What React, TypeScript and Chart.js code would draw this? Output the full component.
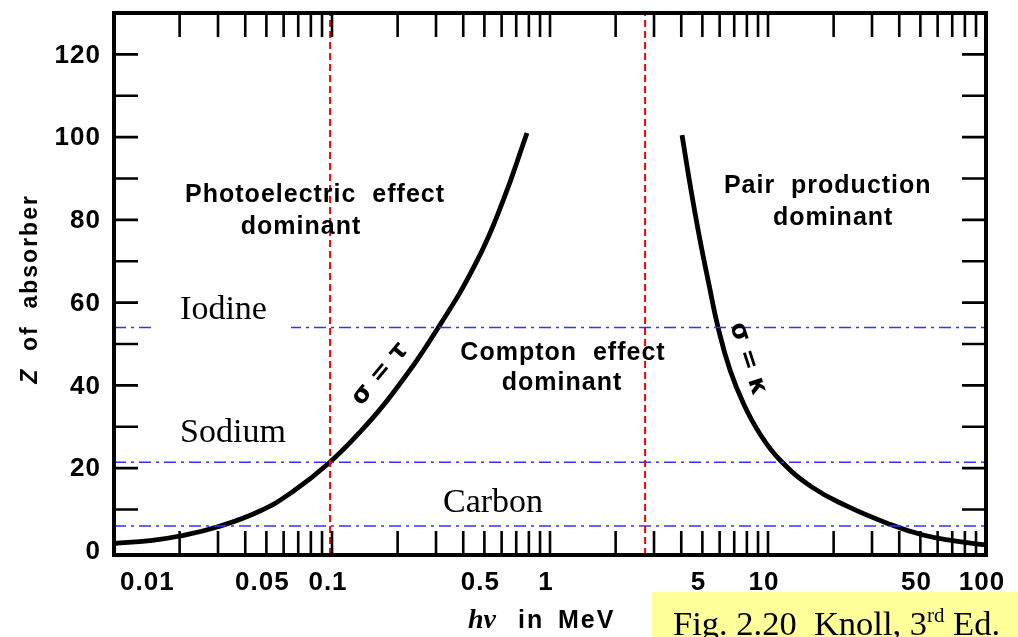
import React, { useEffect, useRef } from "react";
import { Chart, registerables } from "chart.js";

Chart.register(...registerables);

// ---- axis ranges and ticks ----
const X_MIN = 0.01;
const X_MAX = 100;
const Y_MIN = -1;
const Y_MAX = 130;

const X_TICKS = [
  0.02, 0.03, 0.04, 0.05, 0.06, 0.07, 0.08, 0.09, 0.1,
  0.2, 0.3, 0.4, 0.5, 0.6, 0.7, 0.8, 0.9, 1,
  2, 3, 4, 5, 6, 7, 8, 9, 10,
  20, 30, 40, 50, 60, 70, 80, 90,
];
const X_LABEL_VALUES = [0.01, 0.05, 0.1, 0.5, 1, 5, 10, 50, 100];
const X_LABEL_TEXT = ["0.01", "0.05", "0.1", "0.5", "1", "5", "10", "50", "100"];
const Y_TICKS = [10, 20, 30, 40, 50, 60, 70, 80, 90, 100, 110, 120];
const Y_LABEL_VALUES = [0, 20, 40, 60, 80, 100, 120];

// ---- curves: sigma = tau (photoelectric = Compton), sigma = kappa (pair = Compton) ----
const PHOTO_ENERGY = [0.01, 0.01463, 0.02008, 0.02969, 0.04674, 0.0662, 0.0969, 0.1345, 0.1905, 0.3064, 0.4625, 0.6086, 0.7843];
const PHOTO_Z = [1.78, 2.5, 3.59, 5.77, 9.64, 14.35, 21.24, 28.73, 38.16, 53.87, 70.07, 84.57, 101.0];
const PAIR_ENERGY = [4.033, 4.435, 4.877, 5.364, 5.896, 6.695, 7.762, 9.19, 11.35, 15.92, 23.04, 35.16, 51.4, 72.9, 100];
const PAIR_Z = [100.5, 87.2, 75.1, 64.3, 54.1, 43.7, 35.3, 28.25, 21.96, 15.4, 10.8, 6.7, 3.83, 2.38, 1.42];

// ---- guide lines ----
const BOUNDARY_ENERGY = [0.098, 2.73];
const ELEMENT_NAMES = ["Iodine", "Sodium", "Carbon"];
const ELEMENT_Z = [54, 21.4, 6];
const ELEMENT_LABEL_E = [0.0201, 0.0201, 0.323];
const ELEMENT_LABEL_Z = [56.0, 26.3, 9.4];
const ELEMENT_LABEL_BOX = [true, false, false];

// ---- region annotations ----
const REGION_TEXT = ["Photoelectric  effect", "dominant", "Compton  effect", "dominant", "Pair  production", "dominant"];
const REGION_E = [0.0836, 0.0721, 1.147, 1.135, 18.8, 19.9];
const REGION_Z = [84.3, 76.6, 46.1, 38.9, 86.5, 78.8];

const CURVE_LABELS = ["σ = τ", "σ = κ"];
const CURVE_LABEL_E = [0.166, 8.09];
const CURVE_LABEL_Z = [42.75, 46.4];
const CURVE_LABEL_ANGLE = [-50, 72];

const SANS = '"Liberation Sans", Arial, Helvetica, sans-serif';
const SERIF = '"Liberation Serif", "Times New Roman", Times, serif';
const TICK_LEN = 24;

function setSpacing(ctx: any, v: string) {
  try {
    ctx.letterSpacing = v;
  } catch (e) {
    /* ignore */
  }
}

const frameAndText = {
  id: "frameAndText",
  afterDatasetsDraw(chart: any) {
    const { ctx, chartArea } = chart;
    const { left, right, top, bottom } = chartArea;
    const xs = chart.scales.x;
    const ys = chart.scales.y;
    const px = (v: number) => xs.getPixelForValue(v);
    const py = (v: number) => ys.getPixelForValue(v);
    ctx.save();

    // element labels (serif)
    ctx.font = `34px ${SERIF}`;
    ctx.textAlign = "left";
    ctx.textBaseline = "alphabetic";
    setSpacing(ctx, "0px");
    ELEMENT_NAMES.forEach((name, i) => {
      const tx = px(ELEMENT_LABEL_E[i]);
      const ty = py(ELEMENT_LABEL_Z[i]);
      if (ELEMENT_LABEL_BOX[i]) {
        const w = ctx.measureText(name).width;
        ctx.fillStyle = "#ffffff";
        ctx.fillRect(tx - 27, ty - 31, w + 51, 46);
      }
      ctx.fillStyle = "#000000";
      ctx.fillText(name, tx, ty);
    });

    // frame
    ctx.strokeStyle = "#000000";
    ctx.lineWidth = 4;
    ctx.strokeRect(left, top, right - left, bottom - top);

    // inward ticks
    ctx.lineWidth = 2.6;
    ctx.beginPath();
    X_TICKS.forEach((v) => {
      const x = px(v);
      ctx.moveTo(x, bottom);
      ctx.lineTo(x, bottom - TICK_LEN);
      ctx.moveTo(x, top);
      ctx.lineTo(x, top + TICK_LEN);
    });
    Y_TICKS.forEach((v) => {
      const y = py(v);
      ctx.moveTo(left, y);
      ctx.lineTo(left + TICK_LEN, y);
      ctx.moveTo(right, y);
      ctx.lineTo(right - TICK_LEN, y);
    });
    ctx.stroke();

    // tick labels
    ctx.fillStyle = "#000000";
    ctx.font = `bold 26px ${SANS}`;
    setSpacing(ctx, "1px");
    ctx.textBaseline = "middle";
    X_LABEL_VALUES.forEach((v, i) => {
      const x = px(v);
      if (i === 0) {
        ctx.textAlign = "left";
        ctx.fillText(X_LABEL_TEXT[i], x + 6, bottom + 28);
      } else {
        ctx.textAlign = "center";
        ctx.fillText(X_LABEL_TEXT[i], x - 4, bottom + 28);
      }
    });
    ctx.textAlign = "right";
    Y_LABEL_VALUES.forEach((v) => {
      ctx.fillText(String(v), left - 13, py(v) + 1);
    });

    // region annotations
    ctx.font = `bold 25px ${SANS}`;
    setSpacing(ctx, "1px");
    ctx.textAlign = "center";
    ctx.textBaseline = "alphabetic";
    REGION_TEXT.forEach((t, i) => {
      ctx.fillText(t, px(REGION_E[i]), py(REGION_Z[i]));
    });

    // curve labels
    ctx.font = `bold 25px "DejaVu Sans", ${SANS}`;
    setSpacing(ctx, "0px");
    ctx.textBaseline = "middle";
    CURVE_LABELS.forEach((t, i) => {
      ctx.save();
      ctx.translate(px(CURVE_LABEL_E[i]), py(CURVE_LABEL_Z[i]));
      ctx.rotate((CURVE_LABEL_ANGLE[i] * Math.PI) / 180);
      ctx.fillText(t, 0, 0);
      ctx.restore();
    });

    // y axis title
    ctx.save();
    ctx.translate(31, (top + bottom) / 2 + 5);
    ctx.rotate(-Math.PI / 2);
    ctx.textAlign = "left";
    ctx.textBaseline = "middle";
    setSpacing(ctx, "2px");
    ctx.font = `italic bold 23px ${SANS}`;
    const zW = ctx.measureText("Z").width;
    ctx.font = `bold 23px ${SANS}`;
    const restW = ctx.measureText("  of  absorber").width;
    const sx = -(zW + restW) / 2;
    ctx.font = `italic bold 23px ${SANS}`;
    ctx.fillText("Z", sx, 0);
    ctx.font = `bold 23px ${SANS}`;
    ctx.fillText("  of  absorber", sx + zW, 0);
    ctx.restore();

    // x axis title
    const cx = (left + right) / 2;
    ctx.textAlign = "left";
    ctx.textBaseline = "alphabetic";
    setSpacing(ctx, "0px");
    ctx.font = `italic bold 28px ${SERIF}`;
    ctx.fillText("hν", cx - 82, bottom + 73);
    ctx.font = `bold 25px ${SANS}`;
    setSpacing(ctx, "2px");
    ctx.fillText("in", cx - 32, bottom + 73);
    ctx.fillText("MeV", cx + 8, bottom + 73);

    // caption box
    ctx.fillStyle = "#ffff99";
    ctx.fillRect(652, 592, 366, 45);
    ctx.fillStyle = "#000000";
    setSpacing(ctx, "0px");
    ctx.font = `34.5px ${SERIF}`;
    let fx = 673;
    const base = 635;
    const part1 = "Fig. 2.20  Knoll, 3";
    ctx.fillText(part1, fx, base);
    fx += ctx.measureText(part1).width;
    ctx.font = `21px ${SERIF}`;
    ctx.fillText("rd", fx, base - 13);
    fx += ctx.measureText("rd").width;
    ctx.font = `34.5px ${SERIF}`;
    ctx.fillText(" Ed.", fx, base);

    ctx.restore();
  },
};

export default function App() {
  const canvasRef = useRef<HTMLCanvasElement | null>(null);

  useEffect(() => {
    const canvas = canvasRef.current;
    if (!canvas) return;

    const redLines = BOUNDARY_ENERGY.map((e) => ({
      data: [
        { x: e, y: Y_MIN },
        { x: e, y: Y_MAX },
      ],
      borderColor: "#ff0000",
      borderWidth: 2,
      borderDash: [7, 4],
      pointRadius: 0,
      tension: 0,
      fill: false,
    }));
    const blueLines = ELEMENT_Z.map((z) => ({
      data: [
        { x: X_MIN, y: z },
        { x: X_MAX, y: z },
      ],
      borderColor: "#3333ff",
      borderWidth: 1.6,
      borderDash: [12, 5, 3, 5],
      pointRadius: 0,
      tension: 0,
      fill: false,
    }));
    const photo = {
      data: PHOTO_ENERGY.map((x, i) => ({ x, y: PHOTO_Z[i] })),
      borderColor: "#000000",
      borderWidth: 4.8,
      pointRadius: 0,
      tension: 0.45,
      fill: false,
    };
    const pair = {
      data: PAIR_ENERGY.map((x, i) => ({ x, y: PAIR_Z[i] })),
      borderColor: "#000000",
      borderWidth: 4.8,
      pointRadius: 0,
      tension: 0.45,
      fill: false,
    };

    const chart = new Chart(canvas, {
      type: "line",
      data: { datasets: [...redLines, ...blueLines, photo, pair] as any },
      options: {
        animation: false,
        responsive: false,
        maintainAspectRatio: false,
        layout: { padding: { left: 114, top: 13, right: 32, bottom: 82 } },
        plugins: { legend: { display: false }, tooltip: { enabled: false } },
        scales: {
          x: { type: "logarithmic", min: X_MIN, max: X_MAX, display: false },
          y: { type: "linear", min: Y_MIN, max: Y_MAX, display: false },
        },
      } as any,
      plugins: [frameAndText],
    });
    return () => chart.destroy();
  }, []);

  return (
    <div style={{ position: "fixed", left: 0, top: 0, width: 1018, height: 637, background: "#ffffff" }}>
      <canvas ref={canvasRef} width={1018} height={637} style={{ display: "block" }} />
    </div>
  );
}
